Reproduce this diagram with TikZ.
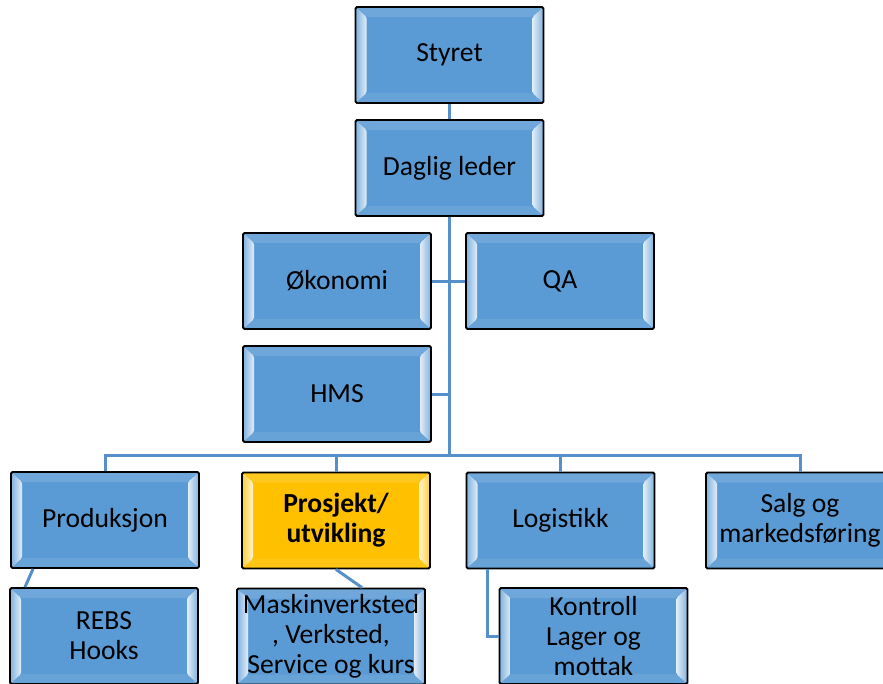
\documentclass[tikz,border=0pt]{standalone}
\usepackage{fontspec}
\setmainfont{Carlito}
\usepackage{tikz}

\definecolor{boxblue}{HTML}{5B9BD5}
\definecolor{boxorange}{HTML}{FFC000}
\definecolor{linkblue}{HTML}{5590CB}
\newcommand\boxfont{\fontsize{27.6pt}{30pt}\selectfont}

\tikzset{
  bevel/.style={path picture={
      \path (path picture bounding box.south west) coordinate (pp-sw)
            (path picture bounding box.north east) coordinate (pp-ne);
      \path (pp-sw |- pp-ne) coordinate (pp-nw) (pp-ne |- pp-sw) coordinate (pp-se);
      \fill[#1!88!white] (pp-nw) -- (pp-ne) -- ([shift={(-11pt,-10pt)}]pp-ne) -- ([shift={(11pt,-10pt)}]pp-nw) -- cycle;
      \fill[#1!92!white] (pp-sw) -- (pp-se) -- ([shift={(-11pt,10pt)}]pp-se) -- ([shift={(11pt,10pt)}]pp-sw) -- cycle;
      \fill[left color=#1!78!white, right color=white!82!#1] (pp-sw) -- ([shift={(11pt,10pt)}]pp-sw) -- ([shift={(11pt,-10pt)}]pp-nw) -- (pp-nw) -- cycle;
      \fill[left color=white!82!#1, right color=#1!78!white] (pp-se) -- ([shift={(-11pt,10pt)}]pp-se) -- ([shift={(-11pt,-10pt)}]pp-ne) -- (pp-ne) -- cycle;
    }},
  unit/.style={draw=black, line width=1.8pt, rounded corners=1.5pt, fill=#1, bevel=#1,
    minimum width=188pt, minimum height=96pt, inner sep=0pt, align=center, font=\boxfont},
  unit/.default=boxblue,
  link/.style={draw=linkblue, line width=3pt}
}

\begin{document}
\begin{tikzpicture}[x=1pt,y=-1pt]
  \useasboundingbox (0,0) rectangle (883,683);
  \clip (0,0) rectangle (883,683);
  \node[unit] (sty) at (449.5,55) {Styret};
  \node[unit] (dl) at (449.5,168) {Daglig leder};
  \node[unit] (oko) at (337,281) {Økonomi};
  \node[unit] (qa) at (560,281) {QA};
  \node[unit] (hms) at (337,394) {HMS};
  \node[unit] (prod) at (105,520) {Produksjon};
  \node[unit=boxorange] (proj) at (336,520.5) {\bfseries Prosjekt/\\\bfseries utvikling};
  \node[unit] (log) at (560.5,520.5) {Logistikk};
  \node[unit] (salg) at (800,520.5) {Salg og\\markedsføring};
  \node[unit] (rebs) at (104,636) {REBS\\Hooks};
  \node[unit] (mask) at (331,636.5) {Maskinverksted\\, Verksted,\\Service og kurs};
  \node[unit] (kon) at (593.5,636) {Kontroll\\Lager og\\mottak};
  \coordinate (bus) at (449.5,455);
  \draw[link] (sty.south) -- (dl.north);
  \draw[link] (dl.south) -- (bus);
  \foreach \x in {oko,hms} {\draw[link] (\x.east) -- (\x.east -| bus);}
  \draw[link] (qa.west) -- (qa.west -| bus);
  \foreach \x in {prod,proj,log,salg} {\draw[link] (bus) -| (\x.north);}
  \draw[link] ([xshift=-72pt]prod.south) -- ([xshift=-79pt]rebs.north);
  \draw[link] (proj.south) -- ([xshift=31pt]mask.north);
  \draw[link] ([xshift=-73pt]log.south) |- (kon.west);
\end{tikzpicture}
\end{document}
